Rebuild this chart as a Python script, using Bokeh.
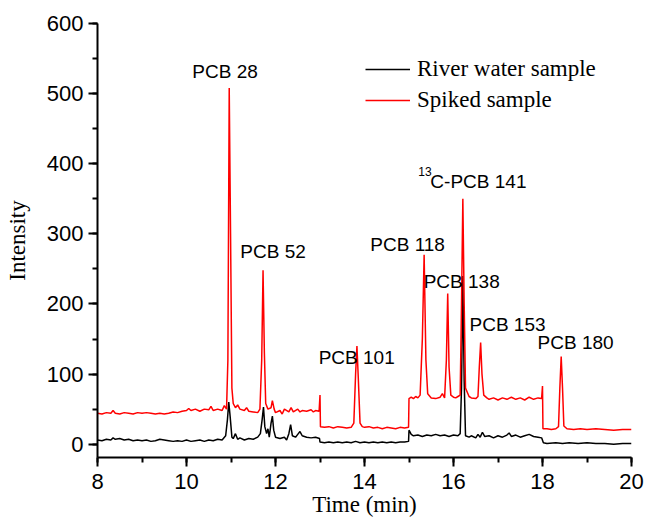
from bokeh.plotting import figure
from bokeh.models import Range1d, SingleIntervalTicker, Label, Legend, LegendItem
from bokeh.embed import file_html
from bokeh.resources import INLINE

# ---- data ----
spiked_t = [8.00, 8.10, 8.20, 8.30, 8.35, 8.40, 8.50, 8.60, 8.70, 8.80, 8.90, 9.00, 9.10, 9.20, 9.30,
            9.40, 9.50, 9.60, 9.70, 9.80, 9.90, 10.00, 10.05, 10.10, 10.20, 10.30, 10.40, 10.50, 10.55,
            10.60, 10.70, 10.80, 10.85, 10.90, 10.93, 10.96, 10.99, 11.02, 11.05, 11.10, 11.15, 11.20,
            11.30, 11.35, 11.40, 11.50, 11.60, 11.65, 11.69, 11.72, 11.75, 11.78, 11.83, 11.90, 11.93,
            11.97, 12.00, 12.10, 12.15, 12.20, 12.30, 12.35, 12.40, 12.50, 12.55, 12.60, 12.70, 12.80,
            12.85, 12.90, 12.98, 13.00, 13.01, 13.10, 13.20, 13.30, 13.40, 13.50, 13.60, 13.70, 13.76,
            13.80, 13.83, 13.86, 13.90, 13.95, 14.00, 14.10, 14.20, 14.30, 14.40, 14.50, 14.60, 14.70,
            14.80, 14.90, 14.99, 15.00, 15.05, 15.10, 15.15, 15.20, 15.25, 15.30, 15.34, 15.38, 15.42,
            15.50, 15.60, 15.70, 15.75, 15.80, 15.84, 15.87, 15.90, 15.94, 16.00, 16.05, 16.10, 16.15,
            16.18, 16.21, 16.24, 16.27, 16.35, 16.40, 16.50, 16.55, 16.58, 16.61, 16.64, 16.68, 16.75,
            16.80, 16.90, 17.00, 17.10, 17.20, 17.30, 17.40, 17.50, 17.60, 17.70, 17.80, 17.90, 17.98,
            18.00, 18.01, 18.10, 18.20, 18.30, 18.36, 18.39, 18.42, 18.45, 18.48, 18.55, 18.70, 18.85,
            19.00, 19.20, 19.40, 19.60, 19.80, 20.00]
spiked_i = [44, 43, 45, 44, 48, 44, 43, 45, 44, 43, 45, 44, 45, 44, 43,
            44, 43, 44, 46, 45, 47, 48, 51, 48, 50, 47, 50, 49, 54,
            48, 50, 48, 55, 50, 120, 508, 300, 80, 58, 52, 56, 50,
            48, 52, 47, 46, 45, 50, 120, 248, 130, 58, 50, 52, 62,
            50, 45, 48, 43, 50, 46, 52, 46, 50, 46, 48, 47, 49,
            46, 48, 47, 70, 25, 24, 25, 23, 25, 24, 23, 24, 30,
            100, 140, 95, 30, 25, 24, 25, 23, 24, 22, 24, 23, 22,
            24, 23, 24, 65, 67, 65, 68, 66, 70, 150, 270, 120, 72,
            66, 65, 67, 72, 66, 120, 215, 110, 70, 67, 66, 68, 70,
            200, 350, 200, 80, 68, 66, 65, 68, 110, 145, 100, 70, 66,
            64, 66, 63, 66, 64, 67, 64, 66, 63, 67, 64, 66, 65,
            83, 22, 22, 21, 22, 25, 80, 125, 80, 26, 22, 21, 22,
            21, 22, 21, 20, 21, 21]

river_t = [8.00, 8.10, 8.20, 8.30, 8.35, 8.40, 8.50, 8.60, 8.70, 8.80, 8.90, 9.00, 9.10, 9.20, 9.30,
           9.40, 9.50, 9.60, 9.70, 9.80, 9.90, 10.00, 10.10, 10.20, 10.30, 10.40, 10.50, 10.60, 10.70,
           10.80, 10.88, 10.92, 10.95, 10.98, 11.02, 11.05, 11.10, 11.15, 11.20, 11.30, 11.40, 11.50,
           11.60, 11.66, 11.70, 11.73, 11.76, 11.80, 11.83, 11.86, 11.90, 11.93, 11.96, 12.00, 12.10,
           12.20, 12.25, 12.30, 12.34, 12.38, 12.45, 12.50, 12.55, 12.60, 12.70, 12.80, 12.90, 12.99,
           13.00, 13.10, 13.20, 13.30, 13.40, 13.50, 13.60, 13.70, 13.80, 13.90, 14.00, 14.10, 14.20,
           14.30, 14.40, 14.50, 14.60, 14.70, 14.80, 14.90, 14.99, 15.00, 15.05, 15.10, 15.20, 15.30,
           15.40, 15.50, 15.60, 15.70, 15.80, 15.90, 16.00, 16.10, 16.15, 16.18, 16.21, 16.24, 16.27,
           16.35, 16.40, 16.50, 16.55, 16.60, 16.65, 16.70, 16.80, 16.90, 17.00, 17.10, 17.20, 17.25,
           17.30, 17.40, 17.50, 17.60, 17.70, 17.80, 17.90, 17.98, 18.02, 18.10, 18.30, 18.45, 18.60,
           18.80, 19.00, 19.20, 19.40, 19.60, 19.80, 20.00]
river_i = [6, 5, 7, 6, 9, 7, 8, 6, 7, 5, 6, 5, 6, 4, 5,
           7, 6, 5, 4, 5, 4, 6, 4, 5, 6, 4, 6, 5, 7,
           6, 12, 35, 60, 40, 10, 8, 15, 7, 9, 6, 8, 7,
           10, 15, 35, 53, 25, 15, 22, 10, 30, 40, 20, 10, 8,
           10, 6, 15, 28, 12, 10, 14, 18, 12, 10, 9, 10, 8,
           3, 2, 3, 2, 3, 2, 3, 2, 4, 2, 3, 2, 3,
           2, 3, 2, 3, 2, 3, 3, 4, 20, 14, 12, 13, 11,
           13, 12, 14, 12, 13, 11, 13, 12, 15, 80, 240, 90, 12,
           10, 12, 9, 14, 10, 17, 11, 12, 9, 12, 10, 13, 16,
           11, 13, 10, 12, 14, 11, 10, 9, 2, 1, 2, 1, 2,
           1, 2, 1, 1, 0, 1, 1]

# peak annotations: text, x (min), baseline y (intensity)
peak_names = ["PCB 28", "PCB 52", "PCB 101", "PCB 118", "PCB 138", "C-PCB 141", "PCB 153", "PCB 180"]
peak_x = [10.13, 11.21, 12.97, 14.13, 15.33, 15.48, 16.36, 17.89]
peak_y = [531, 275, 123, 285, 232, 375, 170, 145]

series_names = ["River water sample", "Spiked sample"]

# ---- figure ----
p = figure(width=646, height=519, output_backend="svg", toolbar_location=None,
           x_range=Range1d(8, 20), y_range=Range1d(-19, 600),
           min_border_left=97, min_border_top=23, min_border_right=15, min_border_bottom=30)
p.outline_line_color = None
p.grid.visible = False
p.background_fill_color = "white"

r_river = p.line(river_t, river_i, line_color="black", line_width=1.5)
r_spiked = p.line(spiked_t, spiked_i, line_color="red", line_width=1.5)

for ax in (p.xaxis[0], p.yaxis[0]):
    ax.axis_line_width = 2
    ax.major_tick_line_width = 2
    ax.minor_tick_line_width = 2
    ax.major_tick_in = 0
    ax.major_tick_out = 9
    ax.minor_tick_in = 0
    ax.minor_tick_out = 5
    ax.major_label_text_font = "Liberation Sans"
    ax.major_label_text_font_size = "22px"
    ax.major_label_text_color = "black"
    ax.axis_label_text_font = "Liberation Serif"
    ax.axis_label_text_font_size = "23px"
    ax.axis_label_text_font_style = "normal"
    ax.axis_label_text_color = "black"

p.xaxis[0].ticker = SingleIntervalTicker(interval=2, num_minor_ticks=2)
p.yaxis[0].ticker = SingleIntervalTicker(interval=100, num_minor_ticks=2)
p.xaxis[0].axis_label = "Time (min)"
p.yaxis[0].axis_label = "Intensity"
p.xaxis[0].major_label_standoff = 7
p.xaxis[0].axis_label_standoff = 0
p.yaxis[0].major_label_standoff = 5
p.yaxis[0].axis_label_standoff = 14

for name, x, y in zip(peak_names, peak_x, peak_y):
    p.add_layout(Label(x=x, y=y, text=name, text_font="Liberation Sans", text_font_size="19px",
                       text_color="black", text_align="left", text_baseline="alphabetic"))
# superscript of the 13C label
p.add_layout(Label(x=15.21, y=389, text="13", text_font="Liberation Sans", text_font_size="12px",
                   text_color="black", text_align="left", text_baseline="alphabetic"))

legend = Legend(items=[LegendItem(label=series_names[0], renderers=[r_river]),
                       LegendItem(label=series_names[1], renderers=[r_spiked])],
                location=(268, 344), glyph_width=45, glyph_height=20, label_standoff=7,
                spacing=5, padding=0, margin=0, border_line_alpha=0, background_fill_alpha=0,
                label_text_font="Liberation Serif", label_text_font_size="23px",
                label_text_color="black")
p.add_layout(legend)

open("out.html", "w").write(file_html(p, INLINE))
